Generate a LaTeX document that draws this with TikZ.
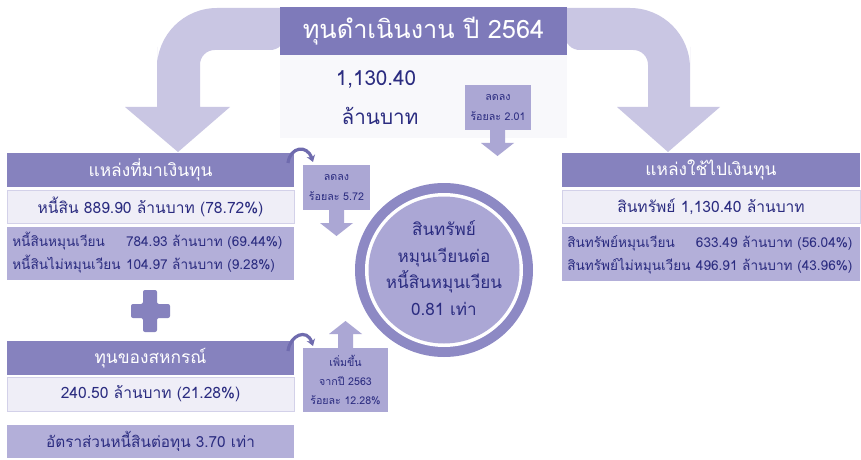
\documentclass[tikz,border=0pt]{standalone}
\usepackage{fontspec}
\setmainfont[Script=Thai]{Loma}
\usetikzlibrary{arrows.meta,calc}
\definecolor{bigarrow}{HTML}{C9C6E3}
\definecolor{titlefill}{HTML}{7E7ABA}
\definecolor{hdrfill}{HTML}{8682BE}
\definecolor{lightfill}{HTML}{EFEEF7}
\definecolor{lightborder}{HTML}{D3D1E9}
\definecolor{whitebox}{HTML}{F8F8FB}
\definecolor{detfill}{HTML}{B3AFD9}
\definecolor{smallfill}{HTML}{ABA7D4}
\definecolor{ringfill}{HTML}{8D89C4}
\definecolor{innerfill}{HTML}{ABA7D5}
\definecolor{navy}{HTML}{2B2C80}
\definecolor{curvecol}{HTML}{6F6BAE}
\begin{document}
\begin{tikzpicture}[x=0.75pt,y=-0.75pt,
  box/.style={inner sep=0pt, outer sep=0pt, align=center},
  hdr/.style={box, fill=hdrfill, text=white, font=\fontsize{13}{15}\selectfont},
  lbox/.style={box, fill=lightfill, draw=lightborder, line width=0.5pt, text=navy, font=\fontsize{11.7}{15}\selectfont},
  dbox/.style={box, fill=detfill},
  dtext/.style={anchor=west, inner sep=0pt, text=navy, font=\fontsize{10.2}{17.5}\selectfont},
  sbox/.style={box, fill=smallfill, text=navy, font=\fontsize{8}{14.5}\selectfont},
  blockarrow/.style={fill=smallfill},
  curvearrow/.style={draw=curvecol, line width=2.4pt, -{Stealth[length=5pt,width=6.5pt]}}
]
\useasboundingbox (0,0) rectangle (861,460);
\fill[white] (0,0) rectangle (861,460);

% big curved arrows
\fill[bigarrow] (285,8) [rounded corners=45pt] -- (157,8) -- (157,107) [sharp corners] -- (157,107) -- (125,107) -- (178,152) -- (230,107) -- (200,107) [rounded corners=11pt] -- (200,50) -- (285,50) [sharp corners] -- cycle;
\fill[bigarrow] (565,8) [rounded corners=45pt] -- (690,8) -- (690,107) [sharp corners] -- (690,107) -- (720,107) -- (668,152) -- (617,107) -- (648,107) [rounded corners=11pt] -- (648,50) -- (565,50) [sharp corners] -- cycle;

% title block
\node[box, fill=whitebox, minimum width=215.25pt, minimum height=62.25pt] (wb) at (423.5,96.5) {};
\node[box, fill=titlefill, text=white, minimum width=215.25pt, minimum height=36pt, font=\fontsize{19}{22}\selectfont] (title) at (423.5,31) {ทุนดำเนินงาน ปี 2564};
\node[box, text=navy, font=\fontsize{15.5}{19}\selectfont] (amt) at (376,80) {1,130.40};
\node[box, text=navy, font=\fontsize{15.5}{19}\selectfont] (unit) at (380,116) {ล้านบาท};

% small box 2.01
\node[sbox, minimum width=49.5pt, minimum height=33.75pt] (s1) at (498,107.5) {ลดลง\\ร้อยละ 2.01};
\fill[blockarrow] (490,130) -- (505,130) -- (505,143) -- (514,143) -- (497.5,156) -- (481,143) -- (490,143) -- cycle;

% left side
\node[hdr, minimum width=215.25pt, minimum height=25.5pt] (h1) at (150.5,170) {แหล่งที่มาเงินทุน};
\node[lbox, minimum width=215.25pt, minimum height=24.75pt] (b1) at (150.5,206.5) {หนี้สิน 889.90 ล้านบาท (78.72\%)};
\node[dbox, minimum width=215.25pt, minimum height=39.75pt] (d1) at (150.5,253.5) {};
\node[dtext] (d1t) at (12,253.5) {\begin{tabular}{@{}l@{\hspace{4pt}}l@{}}หนี้สินหมุนเวียน & 784.93 ล้านบาท (69.44\%)\\หนี้สินไม่หมุนเวียน & 104.97 ล้านบาท (9.28\%)\end{tabular}};

% plus sign
\fill[hdrfill, rounded corners=1.5pt] (143,290) -- (157,290) -- (157,304) -- (170,304) -- (170,318) -- (157,318) -- (157,332) -- (143,332) -- (143,318) -- (131,318) -- (131,304) -- (143,304) -- cycle;

\node[hdr, minimum width=215.25pt, minimum height=25.5pt] (h2) at (150.5,358) {ทุนของสหกรณ์};
\node[lbox, minimum width=215.25pt, minimum height=25.5pt] (b2) at (150.5,394) {240.50 ล้านบาท (21.28\%)};
\node[dbox, text=navy, minimum width=215.25pt, minimum height=24.75pt, font=\fontsize{11.5}{15}\selectfont] (r2) at (150.5,441.5) {อัตราส่วนหนี้สินต่อทุน 3.70 เท่า};

% small box 5.72
\node[sbox, minimum width=50.25pt, minimum height=33.75pt] (s2) at (336.5,187.5) {ลดลง\\ร้อยละ 5.72};
\fill[blockarrow] (329,210) -- (344,210) -- (344,223) -- (353,223) -- (336.5,236) -- (320,223) -- (329,223) -- cycle;

% small box 12.28
\node[sbox, minimum width=63.75pt, minimum height=48pt] (s3) at (345.5,380) {เพิ่มขึ้น\\จากปี 2563\\ร้อยละ 12.28\%};
\fill[blockarrow] (338,348) -- (353,348) -- (353,334) -- (362,334) -- (345.5,321) -- (329,334) -- (338,334) -- cycle;

% curved arrows
\coordinate (c1s) at ([shift={(-6,10)}]h1.north east);
\coordinate (c1e) at ([shift={(10,-3)}]s2.north west);
\draw[curvearrow] (c1s) .. controls ($(c1s)+(2,-16)$) and ($(c1e)+(-6,-18)$) .. (c1e);
\coordinate (c2s) at ([shift={(-6,10)}]h2.north east);
\coordinate (c2e) at ([shift={(10,-2)}]s3.north west);
\draw[curvearrow] (c2s) .. controls ($(c2s)+(2,-16)$) and ($(c2e)+(-6,-18)$) .. (c2e);

% circle
\fill[ringfill] (444,270) ellipse[x radius=89, y radius=87];
\fill[white] (444,270) ellipse[x radius=79, y radius=77];
\fill[innerfill] (444,270) ellipse[x radius=75.5, y radius=73.5];
\node[box, text=navy, font=\fontsize{12.8}{20}\selectfont] (circt) at (444,268) {สินทรัพย์\\หมุนเวียนต่อ\\หนี้สินหมุนเวียน\\0.81 เท่า};

% right side
\node[hdr, minimum width=223.5pt, minimum height=25.5pt] (h3) at (711,170) {แหล่งใช้ไปเงินทุน};
\node[lbox, minimum width=223.5pt, minimum height=24.75pt] (b3) at (711,206.5) {สินทรัพย์ 1,130.40 ล้านบาท};
\node[dbox, minimum width=223.5pt, minimum height=40.5pt] (d3) at (711,254) {};
\node[dtext] (d3t) at (567,254) {\begin{tabular}{@{}l@{\hspace{4pt}}l@{}}สินทรัพย์หมุนเวียน & 633.49 ล้านบาท (56.04\%)\\สินทรัพย์ไม่หมุนเวียน & 496.91 ล้านบาท (43.96\%)\end{tabular}};
\end{tikzpicture}
\end{document}
